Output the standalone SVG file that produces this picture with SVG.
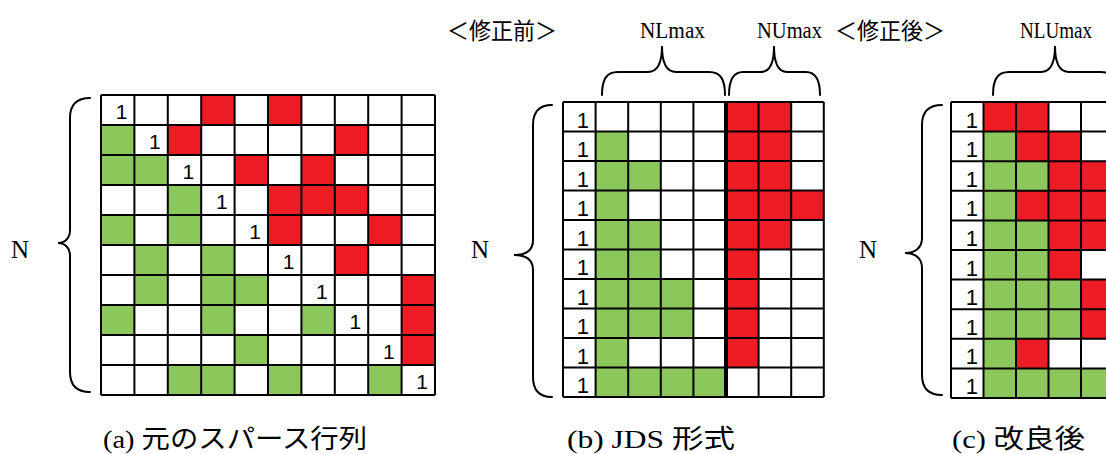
<svg xmlns="http://www.w3.org/2000/svg" width="1106" height="454" viewBox="0 0 1106 454">
<style>
.r{fill:#ED1C24}
.g{fill:#8CC75B}
.grid{fill:none;stroke:#000;stroke-width:2}
.br{fill:none;stroke:#000;stroke-width:2;stroke-linecap:round}
.one{font-family:"Liberation Sans",Arial,sans-serif;font-size:21px;text-anchor:end;fill:#000}
.one2{font-family:"Liberation Sans",Arial,sans-serif;font-size:22px;text-anchor:end;fill:#000}
.n{font-family:"Liberation Serif",serif;font-size:25px;fill:#000}
.lbl{font-family:"Liberation Serif",serif;font-size:23px;fill:#000}
.jp{font-family:"Liberation Serif","Noto Sans CJK JP",serif;font-size:23px;fill:#000}
.cap{font-family:"Liberation Serif","Noto Sans CJK JP",serif;font-size:26px;fill:#000}
</style>
<rect width="1106" height="454" fill="#fff"/>

<g id="matrixA">
<rect x="101" y="95" width="334" height="300" fill="#fff"/>
<g class="r">
<rect x="201.2" y="95" width="33.4" height="30"/>
<rect x="268" y="95" width="33.4" height="30"/>
<rect x="167.8" y="125" width="33.4" height="30"/>
<rect x="334.8" y="125" width="33.4" height="30"/>
<rect x="234.6" y="155" width="33.4" height="30"/>
<rect x="301.4" y="155" width="33.4" height="30"/>
<rect x="268" y="185" width="100.2" height="30"/>
<rect x="268" y="215" width="33.4" height="30"/>
<rect x="368.2" y="215" width="33.4" height="30"/>
<rect x="334.8" y="245" width="33.4" height="30"/>
<rect x="401.6" y="275" width="33.4" height="90"/>
</g>
<g class="g">
<rect x="101" y="125" width="33.4" height="30"/>
<rect x="101" y="155" width="66.8" height="30"/>
<rect x="167.8" y="185" width="33.4" height="60"/>
<rect x="101" y="215" width="33.4" height="30"/>
<rect x="134.4" y="245" width="33.4" height="60"/>
<rect x="201.2" y="245" width="33.4" height="90"/>
<rect x="234.6" y="275" width="33.4" height="30"/>
<rect x="101" y="305" width="33.4" height="30"/>
<rect x="301.4" y="305" width="33.4" height="30"/>
<rect x="234.6" y="335" width="33.4" height="30"/>
<rect x="167.8" y="365" width="66.8" height="30"/>
<rect x="268" y="365" width="33.4" height="30"/>
<rect x="368.2" y="365" width="33.4" height="30"/>
</g>
<path class="grid" d="M101,95V395M134.4,95V395M167.8,95V395M201.2,95V395M234.6,95V395M268,95V395M301.4,95V395M334.8,95V395M368.2,95V395M401.6,95V395M435,95V395M101,95H435M101,125H435M101,155H435M101,185H435M101,215H435M101,245H435M101,275H435M101,305H435M101,335H435M101,365H435M101,395H435"/>
<text class="one" x="127.4" y="119">1</text>
<text class="one" x="160.8" y="149">1</text>
<text class="one" x="194.2" y="179">1</text>
<text class="one" x="227.6" y="209">1</text>
<text class="one" x="261" y="239">1</text>
<text class="one" x="294.4" y="269">1</text>
<text class="one" x="327.8" y="299">1</text>
<text class="one" x="361.2" y="329">1</text>
<text class="one" x="394.6" y="359">1</text>
<text class="one" x="428" y="389">1</text>
</g>

<g id="matrixB">
<rect x="563" y="102" width="260.8" height="295" fill="#fff"/>
<g class="g">
<rect x="595.6" y="131.5" width="32.6" height="265.5"/>
<rect x="628.2" y="161" width="32.6" height="29.5"/>
<rect x="628.2" y="220" width="32.6" height="118"/>
<rect x="660.8" y="279" width="32.6" height="59"/>
<rect x="628.2" y="367.5" width="97.8" height="29.5"/>
</g>
<g class="r">
<rect x="726" y="102" width="32.6" height="265.5"/>
<rect x="758.6" y="102" width="32.6" height="147.5"/>
<rect x="791.2" y="190.5" width="32.6" height="29.5"/>
</g>
<path class="grid" d="M563,102V397M595.6,102V397M628.2,102V397M660.8,102V397M693.4,102V397M758.6,102V397M791.2,102V397M823.8,102V397M563,102H823.8M563,131.5H823.8M563,161H823.8M563,190.5H823.8M563,220H823.8M563,249.5H823.8M563,279H823.8M563,308.5H823.8M563,338H823.8M563,367.5H823.8M563,397H823.8"/>
<path d="M726,101V398" stroke="#000" stroke-width="4"/>
<text class="one2" x="589" y="127.5">1</text>
<text class="one2" x="589" y="157">1</text>
<text class="one2" x="589" y="186.5">1</text>
<text class="one2" x="589" y="216">1</text>
<text class="one2" x="589" y="245.5">1</text>
<text class="one2" x="589" y="275">1</text>
<text class="one2" x="589" y="304.5">1</text>
<text class="one2" x="589" y="334">1</text>
<text class="one2" x="589" y="363.5">1</text>
<text class="one2" x="589" y="393">1</text>
</g>

<g id="matrixC">
<rect x="951" y="102" width="162.5" height="296" fill="#fff"/>
<g class="g">
<rect x="983.5" y="131.6" width="32.5" height="266.4"/>
<rect x="1016" y="161.2" width="32.5" height="29.6"/>
<rect x="1016" y="220.4" width="32.5" height="118.4"/>
<rect x="1048.5" y="279.6" width="32.5" height="59.2"/>
<rect x="1016" y="368.4" width="97.5" height="29.6"/>
</g>
<g class="r">
<rect x="983.5" y="102" width="65" height="29.6"/>
<rect x="1016" y="131.6" width="65" height="29.6"/>
<rect x="1048.5" y="161.2" width="65" height="29.6"/>
<rect x="1016" y="190.8" width="97.5" height="29.6"/>
<rect x="1048.5" y="220.4" width="65" height="29.6"/>
<rect x="1048.5" y="250" width="32.5" height="29.6"/>
<rect x="1081" y="279.6" width="32.5" height="59.2"/>
<rect x="1016" y="338.8" width="32.5" height="29.6"/>
</g>
<path class="grid" d="M951,102V398M983.5,102V398M1016,102V398M1048.5,102V398M1081,102V398M1113.5,102V398M951,102H1113.5M951,131.6H1113.5M951,161.2H1113.5M951,190.8H1113.5M951,220.4H1113.5M951,250H1113.5M951,279.6H1113.5M951,309.2H1113.5M951,338.8H1113.5M951,368.4H1113.5M951,398H1113.5"/>
<text class="one2" x="978" y="127.6">1</text>
<text class="one2" x="978" y="157.2">1</text>
<text class="one2" x="978" y="186.8">1</text>
<text class="one2" x="978" y="216.4">1</text>
<text class="one2" x="978" y="246">1</text>
<text class="one2" x="978" y="275.6">1</text>
<text class="one2" x="978" y="305.2">1</text>
<text class="one2" x="978" y="334.8">1</text>
<text class="one2" x="978" y="364.4">1</text>
<text class="one2" x="978" y="394">1</text>
</g>

<g id="braces">
<path class="br" d="M90,98 C78,98 70,104 70,118 L70,230 C70,238 65,243 58,243 C65,243 70,248 70,256 L70,372 C70,386 78,392 90,392"/>
<path class="br" d="M552,105 C540,105 533,111 533,125 L533,240 C533,250 526,255 514,255 C526,255 533,260 533,270 L533,377 C533,391 540,397 552,397"/>
<path class="br" d="M942,105 C930,105 922,111 922,125 L922,238 C922,248 915,253 905,253 C915,253 922,258 922,268 L922,375 C922,389 930,395 942,395"/>
<path class="br" d="M602,95 C602,80 606,72 618,72 L648,72 C657,72 662,64 662,46 C662,64 667,72 676,72 L709,72 C721,72 725,80 725,95"/>
<path class="br" d="M729,95 C729,80 733,72 743,72 L761,72 C770,72 774,64 774,46 C774,64 778,72 787,72 L806,72 C816,72 820,80 820,95"/>
<path class="br" d="M993,95 C993,80 997,72 1009,72 L1041,72 C1050,72 1055,64 1055,46 C1055,64 1060,72 1069,72 L1101,72 C1113,72 1117,80 1117,95"/>
</g>

<g id="labels">
<text class="n" x="11" y="258">N</text>
<text class="n" x="471" y="258">N</text>
<text class="n" x="859" y="258">N</text>
<text class="jp" x="447" y="39" textLength="110" lengthAdjust="spacingAndGlyphs">＜修正前＞</text>
<text class="lbl" x="640" y="38" textLength="65" lengthAdjust="spacingAndGlyphs">NLmax</text>
<text class="lbl" x="757" y="38" textLength="65" lengthAdjust="spacingAndGlyphs">NUmax</text>
<text class="jp" x="835" y="39" textLength="110" lengthAdjust="spacingAndGlyphs">＜修正後＞</text>
<text class="lbl" x="1020" y="38" textLength="72" lengthAdjust="spacingAndGlyphs">NLUmax</text>
<text class="cap" x="103" y="448" textLength="264" lengthAdjust="spacingAndGlyphs">(a) 元のスパース行列</text>
<text class="cap" x="567" y="448" textLength="168" lengthAdjust="spacingAndGlyphs">(b) JDS 形式</text>
<text class="cap" x="952" y="448" textLength="133" lengthAdjust="spacingAndGlyphs">(c) 改良後</text>
</g>
</svg>
